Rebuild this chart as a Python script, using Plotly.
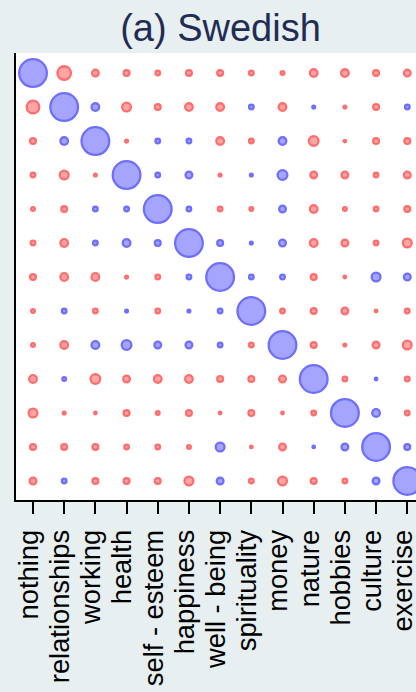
import plotly.graph_objects as go

labels = ["nothing", "relationships", "working", "health", "self - esteem", "happiness",
          "well - being", "spirituality", "money", "nature", "hobbies", "culture", "exercise"]

# correlation matrix (rows top -> bottom, columns left -> right); positive = blue, negative = red
corr = [
    [1.00, -0.53, -0.30, -0.27, -0.23, -0.27, -0.27, -0.23, -0.20, -0.33, -0.33, -0.27, -0.30],
    [-0.50, 1.00, 0.33, -0.37, -0.27, -0.33, -0.33, 0.23, -0.33, 0.17, -0.17, -0.27, 0.23],
    [-0.27, 0.33, 1.00, -0.17, 0.23, 0.23, -0.33, -0.23, 0.33, -0.40, -0.13, -0.27, -0.27],
    [-0.23, -0.37, -0.17, 1.00, 0.23, 0.30, -0.17, 0.17, 0.40, -0.30, -0.30, -0.23, -0.30],
    [-0.20, -0.27, 0.23, 0.23, 1.00, 0.23, -0.23, -0.20, 0.30, -0.33, -0.20, -0.23, -0.27],
    [-0.23, -0.33, 0.23, 0.33, 0.27, 1.00, 0.27, 0.17, 0.30, -0.33, -0.30, -0.23, -0.37],
    [-0.27, -0.33, -0.33, -0.17, -0.23, 0.23, 1.00, 0.23, 0.23, -0.27, -0.13, 0.37, 0.30],
    [-0.20, 0.23, -0.23, 0.17, -0.23, 0.17, 0.23, 1.00, -0.23, -0.27, -0.30, -0.13, -0.23],
    [-0.20, -0.33, 0.33, 0.40, 0.30, 0.30, 0.23, -0.23, 1.00, -0.27, -0.17, -0.30, -0.37],
    [-0.33, 0.20, -0.40, -0.30, -0.33, -0.33, -0.27, -0.27, -0.30, 1.00, -0.23, 0.13, -0.23],
    [-0.37, -0.17, -0.13, -0.27, -0.20, -0.27, -0.13, -0.27, -0.13, -0.23, 1.00, 0.33, -0.23],
    [-0.27, -0.27, -0.27, -0.23, -0.23, -0.20, 0.37, -0.13, -0.30, 0.13, 0.30, 1.00, 0.27],
    [-0.30, 0.23, -0.27, -0.27, -0.27, -0.37, 0.30, -0.23, -0.37, -0.27, -0.23, 0.30, 1.00],
]

xs, ys, sizes, fills, lines, texts = [], [], [], [], [], []
for i, row in enumerate(corr):
    for j, r in enumerate(row):
        xs.append(j)
        ys.append(i)
        sizes.append(max(30 * abs(r) - 2.3, 2.5))
        if r >= 0:
            fills.append("rgb(128,128,255)")
            lines.append("rgb(50,50,255)")
        else:
            fills.append("rgb(255,128,128)")
            lines.append("rgb(255,50,50)")
        texts.append(f"{labels[i]} / {labels[j]}: {r:.2f}")

fig = go.Figure(go.Scatter(
    x=xs, y=ys, mode="markers", text=texts, hoverinfo="text",
    marker=dict(size=sizes, color=fills, line=dict(color=lines, width=2.3)),
    cliponaxis=False,
))

fig.update_layout(
    width=416, height=692,
    margin=dict(l=16, r=0, t=53, b=192, autoexpand=False),
    paper_bgcolor="#e8eff1",
    plot_bgcolor="white",
    showlegend=False,
    title=dict(text="(a) Swedish", x=0.53, xanchor="center", y=1 - 28 / 692, yanchor="middle",
               yref="container", font=dict(family="Liberation Sans, Arial", size=38, color="#1f2d55")),
    font=dict(family="Liberation Sans, Arial", color="black"),
)
fig.update_xaxes(
    range=[-0.545, 12.28], tickvals=list(range(13)), ticktext=labels, tickangle=-90,
    ticks="outside", ticklen=12, tickwidth=1.5, tickcolor="black", automargin=False,
    showline=True, linecolor="black", linewidth=2, showgrid=False, zeroline=False,
    tickfont=dict(size=27.3, color="black"), ticklabeloverflow="allow",
    ticklabelshift=-4, ticklabelstandoff=5,
)
fig.update_yaxes(
    range=[12.56, -0.59], showticklabels=False, ticks="", automargin=False,
    showline=True, linecolor="black", linewidth=2, showgrid=False, zeroline=False,
)

fig.write_html("out.html")
